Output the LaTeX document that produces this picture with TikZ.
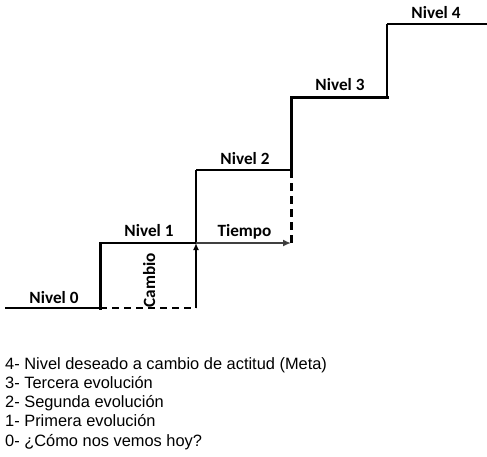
\documentclass[tikz,border=0pt]{standalone}
\usepackage{fontspec}
\setmainfont{Liberation Sans}
\newfontfamily\lblfont{Carlito}
\usetikzlibrary{arrows.meta}
\tikzset{
  lvl/.style={font=\lblfont\bfseries\fontsize{17.2}{19}\selectfont, anchor=base, inner sep=0pt},
  legend/.style={font=\fontsize{16.4}{19}\selectfont, anchor=base west, inner sep=0pt},
  stair/.style={line width=3pt, line cap=rect},
  thin stair/.style={line width=2pt},
  dash line/.style={line width=2pt, dash pattern=on 7pt off 5pt},
}
\begin{document}
\begin{tikzpicture}[x=1pt,y=-1pt]
\useasboundingbox (0,0) rectangle (487,456);
% corner coordinates
\coordinate (a0) at (5,308);
\coordinate (a1) at (100,308);
\coordinate (b1) at (100,243);
\coordinate (c1) at (196,243);
\coordinate (c0) at (196,308);
\coordinate (c2) at (196,170);
\coordinate (d2) at (291,170);
\coordinate (d1) at (291,243);
\coordinate (d3) at (291,97);
\coordinate (e3) at (387,97);
\coordinate (e4) at (387,24);
\coordinate (f4) at (487,24);
% staircase
\draw[thin stair] (a0) -- (a1);
\draw[stair] (a1) -- (b1);
\draw[line width=2.5pt] (b1) -- (c1);
\draw[line width=2pt] (c1) -- (c2);
\draw[line width=1.6pt] (c2) -- (d2);
\draw[stair] (d2) -- (d3) -- (e3);
\draw[line width=2.5pt] (e3) -- (e4);
\draw[thin stair] (e4) -- (f4);
% dashed helpers
\draw[dash line] (a1) -- (c0);
\draw[line width=3pt, dash pattern=on 8pt off 5pt] (d2) -- (d1);
% arrows
\draw[line width=1.6pt, -{Latex[length=7pt,width=6pt]}] (c0) -- (c1);
\draw[line width=2pt, gray!50!black, -{Latex[length=8pt,width=7pt,fill=black]}] (c1) -- (d1);
% labels
\node[lvl] (n0) at (54,303) {Nivel 0};
\node[lvl] (n1) at (149,236) {Nivel 1};
\node[lvl] (n2) at (245,164) {Nivel 2};
\node[lvl] (n3) at (340,90.5) {Nivel 3};
\node[lvl] (n4) at (436,18) {Nivel 4};
\node[lvl] (tp) at (244.5,236) {Tiempo};
\node[lvl, rotate=90, anchor=base] (cb) at (155,280) {Cambio};
% legend
\node[legend] (l4) at (5,369) {4- Nivel deseado a cambio de actitud (Meta)};
\node[legend] (l3) at (5,388.3) {3- Tercera evolución};
\node[legend] (l2) at (5,407.6) {2- Segunda evolución};
\node[legend] (l1) at (5,426.9) {1- Primera evolución};
\node[legend] (l0) at (5,446.2) {0- ¿Cómo nos vemos hoy?};
\end{tikzpicture}
\end{document}
